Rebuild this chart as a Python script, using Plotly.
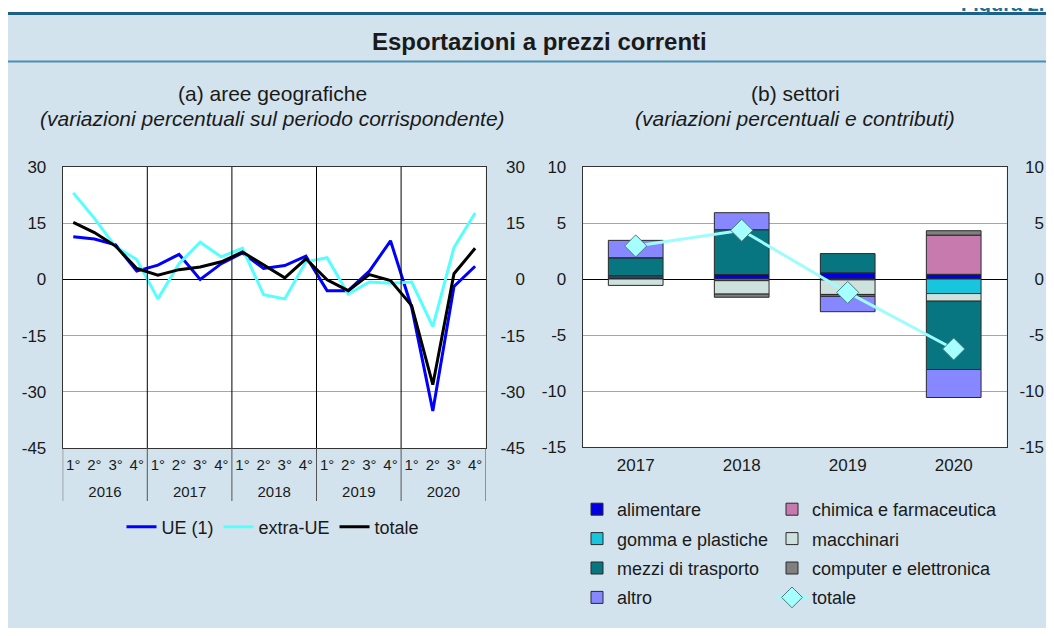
import plotly.graph_objects as go

# ---------------- data ----------------
years = ["2016", "2017", "2018", "2019", "2020"]
quarters = ["1°", "2°", "3°", "4°"]

ue = [11.4, 10.8, 9.2, 2.2, 3.8, 6.7, 0.0, 4.2, 7.1, 2.9, 3.7, 6.2,
      -3.0, -3.0, 2.2, 10.3, -7.5, -35.1, -1.9, 3.5]
extra_ue = [23.1, 16.3, 8.7, 5.3, -5.2, 4.2, 9.9, 6.0, 8.3, -4.1, -5.2, 4.7,
            5.8, -3.9, -0.7, -1.0, -0.7, -12.6, 8.5, 17.7]
totale_q = [15.2, 12.5, 8.9, 2.9, 1.1, 2.6, 3.3, 4.7, 7.3, 3.9, 0.4, 5.5,
            -0.1, -3.0, 1.3, -0.3, -7.0, -28.1, 1.5, 8.3]

left_ticks = [-45, -30, -15, 0, 15, 30]
left_ticktext = ["-45", "-30", "-15", "0", "15", "30"]

sector_years = ["2017", "2018", "2019", "2020"]
alimentare = [0.1, 0.4, 0.55, 0.42]
chimica = [0.1, -0.15, 0.0, 3.5]
gomma = [0.1, 0.0, -0.08, -1.3]
macchinari = [-0.57, -1.2, -1.3, -0.68]
mezzi = [1.6, 4.0, 1.72, -6.1]
computer = [0.0, -0.28, -0.17, 0.39]
altro = [1.55, 1.52, -1.37, -2.5]
totale_s = [2.95, 4.35, -1.2, -6.25]

right_ticks = [-15, -10, -5, 0, 5, 10]
right_ticktext = ["-15", "-10", "-5", "0", "5", "10"]

# ---------------- helpers ----------------
OFF = 8                      # page body margin of the browser
W, H = 1054 - 2 * OFF, 636 - 2 * OFF
def px(x):
    return (x - OFF) / W
def py(y):
    return 1 - (y - OFF) / H

FONT = "Liberation Sans, Arial, sans-serif"
TXT = "#1a1a1a"
BG = "#d2e3ed"

nq = len(quarters)
xq = list(range(len(years) * nq))                 # quarter index positions
q_text = [q for _ in years for q in quarters]
year_pos = [i * nq + (nq - 1) / 2 for i in range(len(years))]
year_bounds = [i * nq - 0.5 for i in range(len(years) + 1)]

fig = go.Figure()

# left panel lines
fig.add_trace(go.Scatter(x=xq, y=ue, mode="lines", name="UE (1)",
                         line=dict(color="#0000ff", width=3), xaxis="x", yaxis="y",
                         legend="legend"))
fig.add_trace(go.Scatter(x=xq, y=extra_ue, mode="lines", name="extra-UE",
                         line=dict(color="#55ffff", width=3), xaxis="x", yaxis="y",
                         legend="legend"))
fig.add_trace(go.Scatter(x=xq, y=totale_q, mode="lines", name="totale",
                         line=dict(color="#000000", width=3), xaxis="x", yaxis="y",
                         legend="legend"))
# invisible carriers for the mirrored right-hand tick labels / year labels
fig.add_trace(go.Scatter(x=xq, y=totale_q, mode="lines", line=dict(width=0), opacity=0,
                         showlegend=False, hoverinfo="skip", xaxis="x", yaxis="y3"))
fig.add_trace(go.Scatter(x=xq, y=totale_q, mode="lines", line=dict(width=0), opacity=0,
                         showlegend=False, hoverinfo="skip", xaxis="x3", yaxis="y"))

# right panel bars
bar_specs = [
    ("alimentare", alimentare, "#0000e0", "legend2"),
    ("chimica e farmaceutica", chimica, "#c77aad", "legend3"),
    ("gomma e plastiche", gomma, "#17c6dc", "legend2"),
    ("macchinari", macchinari, "#cde1dd", "legend3"),
    ("mezzi di trasporto", mezzi, "#077680", "legend2"),
    ("computer e elettronica", computer, "#808080", "legend3"),
    ("altro", altro, "#8787ff", "legend2"),
]
for name, vals, col, lg in bar_specs:
    fig.add_trace(go.Bar(x=sector_years, y=vals, name=name,
                         marker=dict(color=col, line=dict(color="#2a2a2a", width=1)),
                         xaxis="x2", yaxis="y2", legend=lg, legendgroup=name))

fig.add_trace(go.Scatter(x=sector_years, y=totale_s, mode="lines+markers", name="totale",
                         line=dict(color="#9ffcfc", width=3),
                         marker=dict(symbol="diamond", size=17, color="#a6ffff",
                                     line=dict(color="#4a7c80", width=1)),
                         xaxis="x2", yaxis="y2", legend="legend3", legendgroup="tot"))
fig.add_trace(go.Scatter(x=sector_years, y=totale_s, mode="lines", line=dict(width=0), opacity=0,
                         showlegend=False, hoverinfo="skip", xaxis="x2", yaxis="y4"))

# ---------------- layout ----------------
L0, L1 = px(62.7), px(485.7)
R0, R1 = px(582.7), px(1006.7)
YT, YB = py(167), py(448)

tick17 = dict(family=FONT, size=17, color=TXT)
tick15 = dict(family=FONT, size=15, color=TXT)
leg18 = dict(family=FONT, size=18, color=TXT)
xr = [-0.5, len(xq) - 0.5]

fig.update_layout(
    template="none",
    width=W, height=H,
    margin=dict(l=0, r=0, t=0, b=0, pad=0),
    paper_bgcolor=BG,
    plot_bgcolor="white",
    font=dict(family=FONT, size=16, color=TXT),
    barmode="relative",
    bargap=0.484,
    xaxis=dict(domain=[L0, L1], anchor="y", range=xr, automargin=False,
               tickvals=xq, ticktext=q_text,
               showline=True, linecolor="#333", linewidth=1, mirror=True,
               ticks="", showgrid=False, zeroline=False, tickangle=0,
               ticklabelstandoff=3, tickfont=tick15),
    xaxis3=dict(overlaying="x", anchor="y", side="bottom", range=xr, automargin=False,
                tickvals=year_pos, ticktext=years,
                showline=False, ticks="", showgrid=False, zeroline=False, tickangle=0,
                ticklabelstandoff=33, tickfont=tick15),
    yaxis=dict(domain=[YB, YT], anchor="x", range=[-45, 30], automargin=False,
               tickvals=left_ticks, ticktext=left_ticktext,
               showline=True, linecolor="#333", linewidth=1, mirror=True,
               showgrid=True, gridcolor="#a6a6a6", gridwidth=1,
               zeroline=True, zerolinecolor="#000", zerolinewidth=1,
               ticks="", ticklabelstandoff=12, tickfont=tick17),
    yaxis3=dict(overlaying="y", anchor="free", position=px(525), side="left", automargin=False,
                range=[-45, 30], tickvals=left_ticks, ticktext=left_ticktext,
                showgrid=False, zeroline=False, showline=False, ticks="",
                tickfont=tick17),
    xaxis2=dict(domain=[R0, R1], anchor="y2", type="category", automargin=False,
                showline=True, linecolor="#333", linewidth=1, mirror=True,
                ticks="", showgrid=False, zeroline=False, ticklabelstandoff=3, tickfont=tick17),
    yaxis2=dict(domain=[py(447), YT], anchor="x2", range=[-15, 10], automargin=False,
                tickvals=right_ticks, ticktext=right_ticktext,
                showline=True, linecolor="#333", linewidth=1, mirror=True,
                showgrid=True, gridcolor="#a6a6a6", gridwidth=1,
                zeroline=True, zerolinecolor="#000", zerolinewidth=1,
                ticks="", ticklabelstandoff=12, tickfont=tick17),
    yaxis4=dict(overlaying="y2", anchor="free", position=px(1044), side="left", automargin=False,
                range=[-15, 10], tickvals=right_ticks, ticktext=right_ticktext,
                showgrid=False, zeroline=False, showline=False, ticks="",
                tickfont=tick17),
    legend=dict(orientation="h", x=px(273), xanchor="center", y=py(527), yanchor="middle",
                bgcolor="rgba(0,0,0,0)", font=leg18, itemwidth=30, tracegroupgap=0),
    legend2=dict(orientation="v", x=px(577), xanchor="left", y=py(491), yanchor="top",
                 bgcolor="rgba(0,0,0,0)", font=leg18,
                 tracegroupgap=3, traceorder="grouped", itemwidth=30),
    legend3=dict(orientation="v", x=px(772), xanchor="left", y=py(491), yanchor="top",
                 bgcolor="rgba(0,0,0,0)", font=leg18,
                 tracegroupgap=3, traceorder="grouped", itemwidth=30),
    showlegend=True,
)

shapes = []
# white strip above the top rule
shapes.append(dict(type="rect", xref="paper", yref="paper", x0=0, x1=1, y0=py(13), y1=1,
                   fillcolor="white", line=dict(width=0), layer="below"))
# top dark line and title separator
shapes.append(dict(type="line", xref="paper", yref="paper", x0=0, x1=1, y0=py(13.5), y1=py(13.5),
                   line=dict(color="#1d6286", width=3)))
shapes.append(dict(type="line", xref="paper", yref="paper", x0=0, x1=1, y0=py(61.5), y1=py(61.5),
                   line=dict(color="#4b8fb0", width=2)))
# year separators inside the left plot
for b in year_bounds[1:-1]:
    shapes.append(dict(type="line", xref="x", yref="y domain", x0=b, x1=b, y0=0, y1=1,
                       line=dict(color="#000", width=1)))
# separators of the category label band
for b in year_bounds:
    shapes.append(dict(type="line", xref="x", yref="paper", x0=b, x1=b,
                       y0=py(501), y1=py(448), line=dict(color="#555", width=1)))
fig.update_layout(shapes=shapes)

ann = [
    dict(text="<b>Figura 2.</b>", xref="paper", yref="paper", x=1.0, y=py(17), xanchor="right",
         yanchor="bottom", showarrow=False, font=dict(family=FONT, size=20, color="#1f6e94")),
    dict(text="<b>Esportazioni a prezzi correnti</b>", xref="paper", yref="paper", x=px(539), y=py(42),
         xanchor="center", yanchor="middle", showarrow=False, font=dict(family=FONT, size=24, color=TXT)),
    dict(text="(a) aree geografiche", xref="paper", yref="paper", x=px(272), y=py(93),
         xanchor="center", yanchor="middle", showarrow=False, font=dict(family=FONT, size=21, color=TXT)),
    dict(text="<i>(variazioni percentuali sul periodo corrispondente)</i>", xref="paper", yref="paper",
         x=px(272), y=py(118), xanchor="center", yanchor="middle", showarrow=False,
         font=dict(family=FONT, size=21, color=TXT)),
    dict(text="(b) settori", xref="paper", yref="paper", x=px(795), y=py(93),
         xanchor="center", yanchor="middle", showarrow=False, font=dict(family=FONT, size=21, color=TXT)),
    dict(text="<i>(variazioni percentuali e contributi)</i>", xref="paper", yref="paper",
         x=px(795), y=py(118), xanchor="center", yanchor="middle", showarrow=False,
         font=dict(family=FONT, size=21, color=TXT)),
]
fig.update_layout(annotations=ann)

fig.write_html("out.html")
